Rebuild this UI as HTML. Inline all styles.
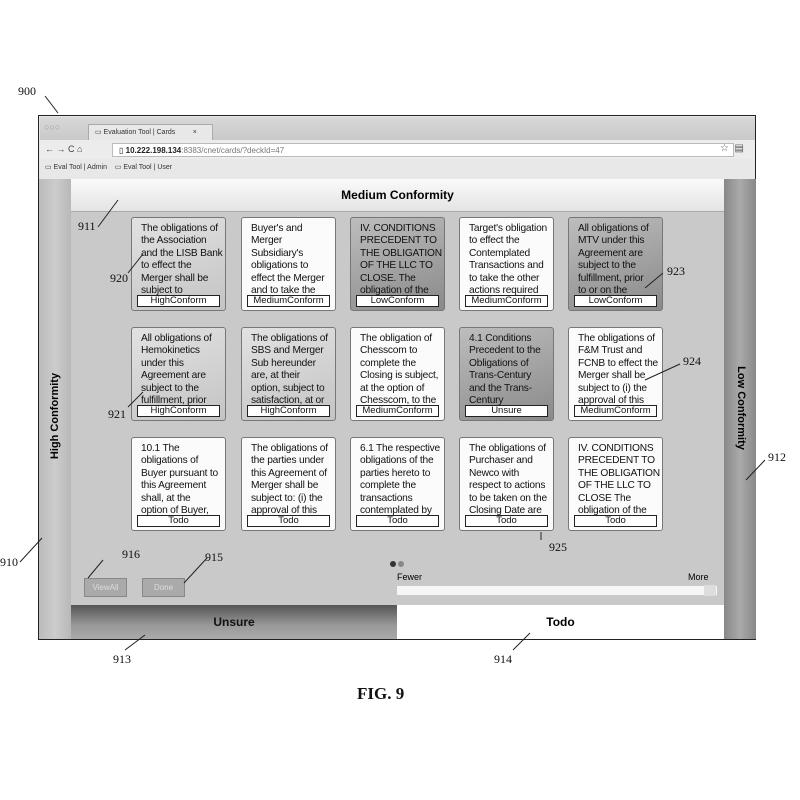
<!DOCTYPE html>
<html><head><meta charset="utf-8"><style>
body{margin:0;width:800px;height:800px;background:#fff;position:relative;overflow:hidden;font-family:"Liberation Sans",sans-serif}
.a{position:absolute}
.lbl{position:absolute;font-family:"Liberation Serif",serif;font-size:12px;color:#111;z-index:5}
.card{position:absolute;width:95px;height:94px;border:1px solid #777;border-radius:3px;box-sizing:border-box;background:#eee;overflow:hidden}
.card .t{position:absolute;left:9px;top:5px;width:84px;font-size:10.2px;line-height:12.4px;color:#111;overflow:hidden;height:75px;white-space:nowrap;letter-spacing:-0.2px}
.card .b{position:absolute;left:5px;right:5px;bottom:3px;height:10px;border:1px solid #222;background:#fff;font-size:9.5px;line-height:10px;text-align:center;color:#111}
.w{background:#fbfbfb}
.g{background:linear-gradient(160deg,#e2e2e2,#c4c4c4)}
.d{background:linear-gradient(160deg,#bdbdbd,#8a8a8a)}
</style></head><body>

<div class="a" style="left:38px;top:115px;width:718px;height:525px;border:1.5px solid #222;box-sizing:border-box;background:#e6e6e6"></div>
<div class="a" style="left:40px;top:117px;width:715px;height:23px;background:linear-gradient(#d8d8d8,#c9c9c9)"></div>
<div class="a" style="left:44px;top:122px;font-size:9px;color:#999">○○○</div>
<div class="a" style="left:88px;top:124px;width:125px;height:16px;background:#e8e8e8;border:1px solid #aaa;border-bottom:none;font-size:7px;line-height:16px;color:#333;padding-left:6px;box-sizing:border-box">▭ Evaluation Tool | Cards &nbsp;&nbsp;&nbsp;&nbsp;&nbsp;&nbsp;&nbsp;&nbsp;×</div>
<div class="a" style="left:40px;top:140px;width:715px;height:19px;background:#ececec"></div>
<div class="a" style="left:45px;top:144px;font-size:9px;color:#444">← → C ⌂</div>
<div class="a" style="left:112px;top:143px;width:622px;height:14px;background:#fff;border:1px solid #bbb;font-size:8px;line-height:14px;color:#222;padding-left:6px;box-sizing:border-box">▯ <b>10.222.198.134</b><span style="color:#777">:8383/cnet/cards/?deckId=47</span></div>
<div class="a" style="left:720px;top:143px;font-size:10px;color:#555">☆ &nbsp;▤</div>
<div class="a" style="left:40px;top:159px;width:715px;height:20px;background:#e8e8e8;font-size:7px;line-height:18px;color:#333;padding-left:5px;box-sizing:border-box">▭ Eval Tool | Admin &nbsp;&nbsp; ▭ Eval Tool | User</div>

<div class="a" style="left:71px;top:212px;width:653px;height:393px;background:#c9c9c9"></div>
<div class="a" style="left:39px;top:179px;width:32px;height:460px;background:linear-gradient(90deg,#bbb,#ccc 50%,#b8b8b8)"></div>
<div class="a" style="left:39px;top:410px;transform:rotate(-90deg);transform-origin:center;text-align:center;font-size:11px;font-weight:bold;white-space:nowrap;margin-left:-30px;width:92px">High Conformity</div>
<div class="a" style="left:724px;top:179px;width:32px;height:460px;background:linear-gradient(90deg,#888,#aaa 50%,#888)"></div>
<div class="a" style="left:695px;top:402px;width:92px;transform:rotate(90deg);text-align:center;font-size:11px;font-weight:bold;white-space:nowrap">Low Conformity</div>
<div class="a" style="left:71px;top:179px;width:653px;height:33px;background:linear-gradient(#fafafa,#e4e4e4);border-bottom:1px solid #aaa;box-sizing:border-box;text-align:center;font-size:12px;font-weight:bold;line-height:33px">Medium Conformity</div>

<div class="card g" style="left:131px;top:217px"><div class="t">The obligations of<br>the Association<br>and the LISB Bank<br>to effect the<br>Merger shall be<br>subject to</div><div class="b">HighConform</div></div>
<div class="card w" style="left:241px;top:217px"><div class="t">Buyer's and<br>Merger<br>Subsidiary's<br>obligations to<br>effect the Merger<br>and to take the</div><div class="b">MediumConform</div></div>
<div class="card d" style="left:350px;top:217px"><div class="t">IV. CONDITIONS<br>PRECEDENT TO<br>THE OBLIGATION<br>OF THE LLC TO<br>CLOSE. The<br>obligation of the</div><div class="b">LowConform</div></div>
<div class="card w" style="left:459px;top:217px"><div class="t">Target's obligation<br>to effect the<br>Contemplated<br>Transactions and<br>to take the other<br>actions required</div><div class="b">MediumConform</div></div>
<div class="card d" style="left:568px;top:217px"><div class="t">All obligations of<br>MTV under this<br>Agreement are<br>subject to the<br>fulfillment, prior<br>to or on the</div><div class="b">LowConform</div></div>

<div class="card g" style="left:131px;top:327px"><div class="t">All obligations of<br>Hemokinetics<br>under this<br>Agreement are<br>subject to the<br>fulfillment, prior</div><div class="b">HighConform</div></div>
<div class="card g" style="left:241px;top:327px"><div class="t">The obligations of<br>SBS and Merger<br>Sub hereunder<br>are, at their<br>option, subject to<br>satisfaction, at or</div><div class="b">HighConform</div></div>
<div class="card w" style="left:350px;top:327px"><div class="t">The obligation of<br>Chesscom to<br>complete the<br>Closing is subject,<br>at the option of<br>Chesscom, to the</div><div class="b">MediumConform</div></div>
<div class="card d" style="left:459px;top:327px"><div class="t">4.1 Conditions<br>Precedent to the<br>Obligations of<br>Trans-Century<br>and the Trans-<br>Century</div><div class="b">Unsure</div></div>
<div class="card w" style="left:568px;top:327px"><div class="t">The obligations of<br>F&amp;M Trust and<br>FCNB to effect the<br>Merger shall be<br>subject to (i) the<br>approval of this</div><div class="b">MediumConform</div></div>

<div class="card w" style="left:131px;top:437px"><div class="t">10.1 The<br>obligations of<br>Buyer pursuant to<br>this Agreement<br>shall, at the<br>option of Buyer,</div><div class="b">Todo</div></div>
<div class="card w" style="left:241px;top:437px"><div class="t">The obligations of<br>the parties under<br>this Agreement of<br>Merger shall be<br>subject to: (i) the<br>approval of this</div><div class="b">Todo</div></div>
<div class="card w" style="left:350px;top:437px"><div class="t">6.1 The respective<br>obligations of the<br>parties hereto to<br>complete the<br>transactions<br>contemplated by</div><div class="b">Todo</div></div>
<div class="card w" style="left:459px;top:437px"><div class="t">The obligations of<br>Purchaser and<br>Newco with<br>respect to actions<br>to be taken on the<br>Closing Date are</div><div class="b">Todo</div></div>
<div class="card w" style="left:568px;top:437px"><div class="t">IV. CONDITIONS<br>PRECEDENT TO<br>THE OBLIGATION<br>OF THE LLC TO<br>CLOSE The<br>obligation of the</div><div class="b">Todo</div></div>

<div class="a" style="left:390px;top:561px;width:6px;height:6px;border-radius:3px;background:#333"></div>
<div class="a" style="left:398px;top:561px;width:6px;height:6px;border-radius:3px;background:#888"></div>
<div class="a" style="left:397px;top:572px;font-size:9px">Fewer</div>
<div class="a" style="left:688px;top:572px;font-size:9px">More</div>
<div class="a" style="left:397px;top:586px;width:320px;height:9px;background:#f6f6f6"></div>
<div class="a" style="left:704px;top:585px;width:12px;height:11px;background:#ddd"></div>
<div class="a" style="left:84px;top:578px;width:41px;height:17px;background:#aaa;border:1px solid #888;font-size:8px;color:#ddd;text-align:center;line-height:17px">ViewAll</div>
<div class="a" style="left:142px;top:578px;width:41px;height:17px;background:#aaa;border:1px solid #888;font-size:8px;color:#ddd;text-align:center;line-height:17px">Done</div>

<div class="a" style="left:71px;top:605px;width:326px;height:34px;background:linear-gradient(#555,#999 60%,#aaa);text-align:center;font-size:12px;font-weight:bold;line-height:34px;color:#111">Unsure</div>
<div class="a" style="left:397px;top:605px;width:327px;height:34px;background:#fff;text-align:center;font-size:12px;font-weight:bold;line-height:34px">Todo</div>

<svg class="a" style="left:0;top:0;z-index:4" width="800" height="800">
<g stroke="#222" stroke-width="1" fill="none">
<line x1="45" y1="96" x2="58" y2="113"/>
<line x1="98" y1="227" x2="118" y2="200"/>
<line x1="128" y1="273" x2="143" y2="254"/>
<line x1="128" y1="407" x2="143" y2="392"/>
<line x1="663" y1="273" x2="645" y2="288"/>
<line x1="680" y1="364" x2="645" y2="380"/>
<line x1="765" y1="460" x2="746" y2="480"/>
<line x1="20" y1="562" x2="42" y2="538"/>
<line x1="103" y1="560" x2="88" y2="578"/>
<line x1="207" y1="558" x2="184" y2="583"/>
<line x1="541" y1="532" x2="541" y2="540"/>
<line x1="125" y1="650" x2="145" y2="635"/>
<line x1="513" y1="650" x2="530" y2="633"/>
</g></svg>
<div class="lbl" style="left:18px;top:84px">900</div>
<div class="lbl" style="left:78px;top:219px">911</div>
<div class="lbl" style="left:110px;top:271px">920</div>
<div class="lbl" style="left:108px;top:407px">921</div>
<div class="lbl" style="left:667px;top:264px">923</div>
<div class="lbl" style="left:683px;top:354px">924</div>
<div class="lbl" style="left:768px;top:450px">912</div>
<div class="lbl" style="left:0px;top:555px">910</div>
<div class="lbl" style="left:122px;top:547px">916</div>
<div class="lbl" style="left:205px;top:550px">915</div>
<div class="lbl" style="left:549px;top:540px">925</div>
<div class="lbl" style="left:113px;top:652px">913</div>
<div class="lbl" style="left:494px;top:652px">914</div>
<div class="lbl" style="left:357px;top:684px;font-size:17px;font-weight:bold">FIG. 9</div>
</body></html>
